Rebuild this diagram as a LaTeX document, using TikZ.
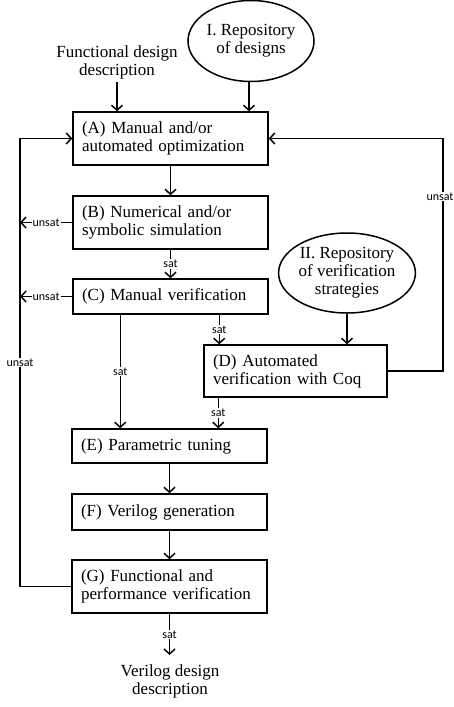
\documentclass[tikz,border=0pt]{standalone}
\usepackage{fontspec}
\setmainfont{Liberation Serif}
\newfontfamily\labfont{Carlito}
\usetikzlibrary{arrows.meta,shapes.geometric}
\tikzset{
  box/.style={draw, line width=1.5pt, rectangle, align=left, inner xsep=9pt, inner ysep=0pt,
    font=\fontsize{17}{18}\selectfont, anchor=center},
  repo/.style={draw, line width=1.5pt, ellipse, align=center, inner sep=0pt,
    font=\fontsize{17}{18}\selectfont},
  plain/.style={align=center, font=\fontsize{17}{18}\selectfont},
  arr/.style={line width=1.5pt, -{Straight Barb[length=5pt,width=11pt,line width=1.5pt]}},
  lab/.style={fill=white, inner sep=1pt, font=\labfont\fontsize{12}{12}\selectfont}
}
\begin{document}
\begin{tikzpicture}[x=1pt,y=-1pt]
\useasboundingbox (0,0) rectangle (454,707);
% repositories and external texts
\node[repo, minimum width=126pt, minimum height=81pt] (rep1) at (251,41) {I. Repository\\of designs};
\node[repo, minimum width=128pt, minimum height=80pt] (rep2) at (347,273) {II. Repository\\of verification\\strategies};
\node[plain] (fdd) at (117,62) {Functional design\\description};
\node[plain] (out) at (170,681) {Verilog design\\description};
% boxes
\node[box, text width=177pt, minimum height=53pt] (A) at (170.5,138.5) {(A) Manual and/or\\automated optimization};
\node[box, text width=177pt, minimum height=53pt] (B) at (170.5,222.5) {(B) Numerical and/or\\symbolic simulation};
\node[box, text width=177pt, minimum height=35pt] (C) at (170.5,296.5) {(C) Manual verification};
\node[box, text width=165pt, minimum height=52pt] (D) at (295.5,371) {(D) Automated\\verification with Coq};
\node[box, text width=177pt, minimum height=34pt] (E) at (169.5,446) {(E) Parametric tuning};
\node[box, text width=177pt, minimum height=36pt] (F) at (169.5,512) {(F) Verilog generation};
\node[box, text width=177pt, minimum height=53pt] (G) at (169.5,586.5) {(G) Functional and\\performance verification};
\coordinate (L) at (20,0);
\coordinate (R) at (443,0);
% connectors
\draw[arr] (fdd.south |- 0,82) -- (fdd.south |- A.north);
\draw[arr] (rep1.south -| 249,0) -- (249,0 |- A.north);
\draw[arr] (A.south) -- (B.north);
\draw[arr] (B.south) -- node[lab]{sat} (C.north);
\draw[arr] ([xshift=16pt]D.north west |- C.south) -- node[lab]{sat} ([xshift=16pt]D.north west);
\draw[arr] ([xshift=48pt]C.south west) -- node[lab]{sat} ([xshift=48pt]C.south west |- E.north);
\draw[arr] ([xshift=15pt]D.south west) -- node[lab]{sat} ([xshift=15pt]D.south west |- E.north);
\draw[arr] (rep2.south) -- (rep2.south |- D.north);
\draw[arr] (E.south) -- (F.north);
\draw[arr] (F.south) -- (G.north);
\draw[arr] (G.south) -- node[lab]{sat} (G.south |- 0,655);
% feedback loops
\draw[arr] (D.east) -- (D.east -| R) -- node[lab, pos=0.75, xshift=-3pt]{unsat} (R |- A.east) -- (A.east);
\draw[arr] (G.west) -- (G.west -| L) -- node[lab]{unsat} (L |- A.west) -- (A.west);
\draw[arr] (B.west) -- node[lab]{unsat} (B.west -| L);
\draw[arr] (C.west) -- node[lab]{unsat} (C.west -| L);
\end{tikzpicture}
\end{document}
